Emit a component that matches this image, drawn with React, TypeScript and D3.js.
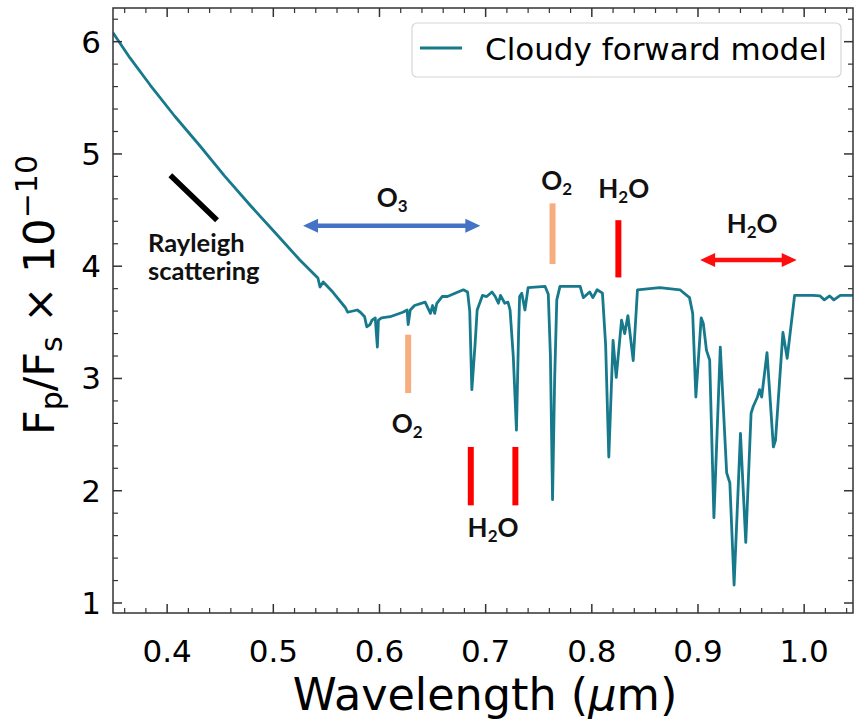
import React from "react";
import * as d3 from "d3";

const wavelength = [
  0.349, 0.365, 0.384, 0.407, 0.431, 0.454, 0.478, 0.502, 0.525, 0.542, 0.544, 0.547, 0.556,
  0.568, 0.57, 0.579, 0.582, 0.586, 0.588, 0.591, 0.593, 0.596, 0.598, 0.599, 0.602, 0.61,
  0.622, 0.626, 0.627, 0.629, 0.633, 0.643, 0.645, 0.648, 0.65, 0.652, 0.654, 0.659, 0.664,
  0.679, 0.683, 0.685, 0.687, 0.69, 0.692, 0.697, 0.701, 0.706, 0.709, 0.712, 0.714, 0.718,
  0.721, 0.723, 0.726, 0.729, 0.731, 0.732, 0.734, 0.737, 0.74, 0.756, 0.759, 0.761, 0.763,
  0.765, 0.767, 0.77, 0.789, 0.792, 0.798, 0.801, 0.805, 0.81, 0.813, 0.816, 0.82, 0.823,
  0.828, 0.831, 0.834, 0.839, 0.843, 0.864, 0.883, 0.892, 0.895, 0.898, 0.903, 0.905, 0.908,
  0.911, 0.915, 0.921, 0.927, 0.93, 0.934, 0.94, 0.945, 0.95, 0.952, 0.956, 0.958, 0.96,
  0.965, 0.971, 0.973, 0.98, 0.984, 0.991, 0.999, 1.008, 1.015, 1.019, 1.024, 1.028, 1.034,
  1.046,
];
const flux = [
  6.08, 5.855, 5.614, 5.338, 5.071, 4.804, 4.545, 4.296, 4.055, 3.895, 3.815, 3.86, 3.77,
  3.63, 3.59, 3.61, 3.59, 3.55, 3.46, 3.48, 3.52, 3.54, 3.28, 3.52, 3.54, 3.55,
  3.59, 3.61, 3.48, 3.61, 3.65, 3.68, 3.64, 3.58, 3.65, 3.58, 3.67, 3.73, 3.73,
  3.79, 3.77, 3.6, 2.9, 3.3, 3.61, 3.74, 3.73, 3.77, 3.73, 3.67, 3.74, 3.67,
  3.68, 3.61, 3.2, 2.54, 3.4, 3.73, 3.76, 3.61, 3.81, 3.82, 3.75, 3.2, 1.92,
  3.0, 3.7, 3.82, 3.82, 3.72, 3.77, 3.72, 3.79, 3.76, 3.3, 2.3, 3.34, 3.01,
  3.52, 3.4, 3.56, 3.16, 3.79, 3.81, 3.79, 3.72, 3.58, 2.835, 3.54, 3.49, 3.25,
  3.165, 1.76, 3.28, 2.16, 2.07, 1.16, 2.51, 1.54, 2.69, 2.75, 2.835, 2.9, 2.835,
  3.23, 2.39, 2.45, 3.41, 3.18, 3.74, 3.74, 3.74, 3.735, 3.7, 3.735, 3.7, 3.74,
  3.74,
];

const xTicks = [0.4, 0.5, 0.6, 0.7, 0.8, 0.9, 1.0];
const yTicks = [1, 2, 3, 4, 5, 6];
const legendLabel = "Cloudy forward model";

// annotations (data units)
const o3Arrow = { x0: 0.528, x1: 0.695, y: 4.36 };
const h2oArrow = { x0: 0.902, x1: 0.993, y: 4.055 };
const orangeBars = [
  { x: 0.627, y0: 2.87, y1: 3.39 },
  { x: 0.763, y0: 4.02, y1: 4.56 },
];
const redBars = [
  { x: 0.686, y0: 1.87, y1: 2.39 },
  { x: 0.728, y0: 1.87, y1: 2.39 },
  { x: 0.825, y0: 3.9, y1: 4.41 },
];
const rayleighLine = { x0: 0.403, y0: 4.81, x1: 0.447, y1: 4.41 };
const molLabels = [
  { x: 0.612, y: 4.53, main: "O", sub: "3", tail: "" },
  { x: 0.626, y: 2.51, main: "O", sub: "2", tail: "" },
  { x: 0.767, y: 4.68, main: "O", sub: "2", tail: "" },
  { x: 0.83, y: 4.61, main: "H", sub: "2", tail: "O" },
  { x: 0.951, y: 4.3, main: "H", sub: "2", tail: "O" },
  { x: 0.707, y: 1.59, main: "H", sub: "2", tail: "O" },
];
const rayleighText = { x: 0.382, y: 4.13, lines: ["Rayleigh", "scattering"] };

const W = 856;
const H = 727;
const L = 113, R = 853, T = 8, B = 613;

export default function App() {
  const x = d3.scaleLinear().domain([0.349, 1.046]).range([L, R]);
  const y = d3.scaleLinear().domain([0.911, 6.3]).range([B, T]);
  const pts: [number, number][] = wavelength.map((w, i) => [w, flux[i]]);
  const line = d3
    .line<[number, number]>()
    .x((d) => x(d[0]))
    .y((d) => y(d[1]));

  const xMinor = d3.range(0.36, 1.046, 0.02).filter((v) => Math.abs(Math.round(v * 10) - v * 10) > 0.01);
  const yMinor = d3.range(1.2, 6.3, 0.2).filter((v) => Math.abs(Math.round(v) - v) > 0.01);

  const tickColor = "#333";
  const annFont = "Lato, 'DejaVu Sans', sans-serif";
  const axFont = "'DejaVu Sans', sans-serif";

  const dblArrow = (x0: number, x1: number, yy: number, color: string, key: string) => {
    const a = x(x0), b = x(x1), c = y(yy);
    const hl = 15, hw = 7, sw = 2.2;
    const d = `M${a},${c} L${a + hl},${c - hw} L${a + hl},${c - sw} L${b - hl},${c - sw} L${b - hl},${c - hw} L${b},${c} L${b - hl},${c + hw} L${b - hl},${c + sw} L${a + hl},${c + sw} L${a + hl},${c + hw} Z`;
    return <path key={key} d={d} fill={color} />;
  };

  return (
    <svg width={W} height={H} style={{ position: "absolute", left: 0, top: 0, background: "#fff" }}>
      <rect x={0} y={0} width={W} height={H} fill="#fff" />
      <defs>
        <clipPath id="plotclip">
          <rect x={L} y={T} width={R - L} height={B - T} />
        </clipPath>
      </defs>
      <path d={line(pts) || ""} fill="none" stroke="#17798c" strokeWidth={2.8} strokeLinejoin="round" clipPath="url(#plotclip)" />

      {/* annotations */}
      <line x1={x(rayleighLine.x0)} y1={y(rayleighLine.y0)} x2={x(rayleighLine.x1)} y2={y(rayleighLine.y1)} stroke="#000" strokeWidth={5.5} />
      <text x={x(rayleighText.x)} y={y(rayleighText.y)} fontFamily={annFont} fontWeight={700} fontSize={25.5} fill="#111">
        {rayleighText.lines[0]}
      </text>
      <text x={x(rayleighText.x)} y={y(rayleighText.y) + 28} fontFamily={annFont} fontWeight={700} fontSize={25.5} fill="#111">
        {rayleighText.lines[1]}
      </text>
      {dblArrow(o3Arrow.x0, o3Arrow.x1, o3Arrow.y, "#4472c4", "o3")}
      {dblArrow(h2oArrow.x0, h2oArrow.x1, h2oArrow.y, "#ff0d0d", "h2o")}
      {orangeBars.map((b, i) => (
        <line key={"ob" + i} x1={x(b.x)} x2={x(b.x)} y1={y(b.y0)} y2={y(b.y1)} stroke="#f6ad7f" strokeWidth={6} />
      ))}
      {redBars.map((b, i) => (
        <line key={"rb" + i} x1={x(b.x)} x2={x(b.x)} y1={y(b.y0)} y2={y(b.y1)} stroke="#ff0000" strokeWidth={6} />
      ))}
      {molLabels.map((m, i) => (
        <text key={"ml" + i} x={x(m.x)} y={y(m.y)} textAnchor="middle" fontFamily={annFont} fontWeight={700} fontSize={26} fill="#111">
          {m.main}
          <tspan fontSize={17} dy={5}>{m.sub}</tspan>
          {m.tail ? <tspan dy={-5}>{m.tail}</tspan> : null}
        </text>
      ))}

      {/* frame */}
      <rect x={L} y={T} width={R - L} height={B - T} fill="none" stroke={tickColor} strokeWidth={1.5} />

      {/* ticks */}
      {xTicks.map((t) => (
        <g key={"xt" + t}>
          <line x1={x(t)} x2={x(t)} y1={B} y2={B - 9} stroke={tickColor} strokeWidth={1.5} />
          <line x1={x(t)} x2={x(t)} y1={T} y2={T + 9} stroke={tickColor} strokeWidth={1.5} />
          <text x={x(t)} y={662} textAnchor="middle" fontFamily={axFont} fontSize={31} fill="#000">
            {d3.format(".1f")(t)}
          </text>
        </g>
      ))}
      {xMinor.map((t) => (
        <g key={"xm" + t}>
          <line x1={x(t)} x2={x(t)} y1={B} y2={B - 5} stroke={tickColor} strokeWidth={1.2} />
          <line x1={x(t)} x2={x(t)} y1={T} y2={T + 5} stroke={tickColor} strokeWidth={1.2} />
        </g>
      ))}
      {yTicks.map((t) => (
        <g key={"yt" + t}>
          <line x1={L} x2={L + 9} y1={y(t)} y2={y(t)} stroke={tickColor} strokeWidth={1.5} />
          <line x1={R} x2={R - 9} y1={y(t)} y2={y(t)} stroke={tickColor} strokeWidth={1.5} />
          <text x={101} y={y(t) + 11} textAnchor="end" fontFamily={axFont} fontSize={31} fill="#000">
            {d3.format("d")(t)}
          </text>
        </g>
      ))}
      {yMinor.map((t) => (
        <g key={"ym" + t}>
          <line x1={L} x2={L + 5} y1={y(t)} y2={y(t)} stroke={tickColor} strokeWidth={1.2} />
          <line x1={R} x2={R - 5} y1={y(t)} y2={y(t)} stroke={tickColor} strokeWidth={1.2} />
        </g>
      ))}

      {/* axis labels */}
      <text x={485} y={710} textAnchor="middle" fontFamily={axFont} fontSize={44.5} fill="#000">
        Wavelength (<tspan fontStyle="italic">μ</tspan>m)
      </text>
      <text transform={`translate(54,${295}) rotate(-90)`} textAnchor="middle" fontFamily={axFont} fontSize={43} fill="#000">
        F<tspan fontSize={30} dy={8}>p</tspan>
        <tspan dy={-8}>/F</tspan>
        <tspan fontSize={30} dy={8}>s</tspan>
        <tspan dy={-8}> × 10</tspan>
        <tspan fontSize={30} dy={-17}>−10</tspan>
      </text>

      {/* legend */}
      <rect x={412} y={23} width={429} height={54} rx={5} fill="#fff" fillOpacity={0.85} stroke="#d6d6d6" strokeWidth={1.2} />
      <line x1={420} x2={462} y1={48} y2={48} stroke="#17798c" strokeWidth={2.8} />
      <text x={485} y={60} fontFamily={axFont} fontSize={31} fill="#000">
        {legendLabel}
      </text>
    </svg>
  );
}
